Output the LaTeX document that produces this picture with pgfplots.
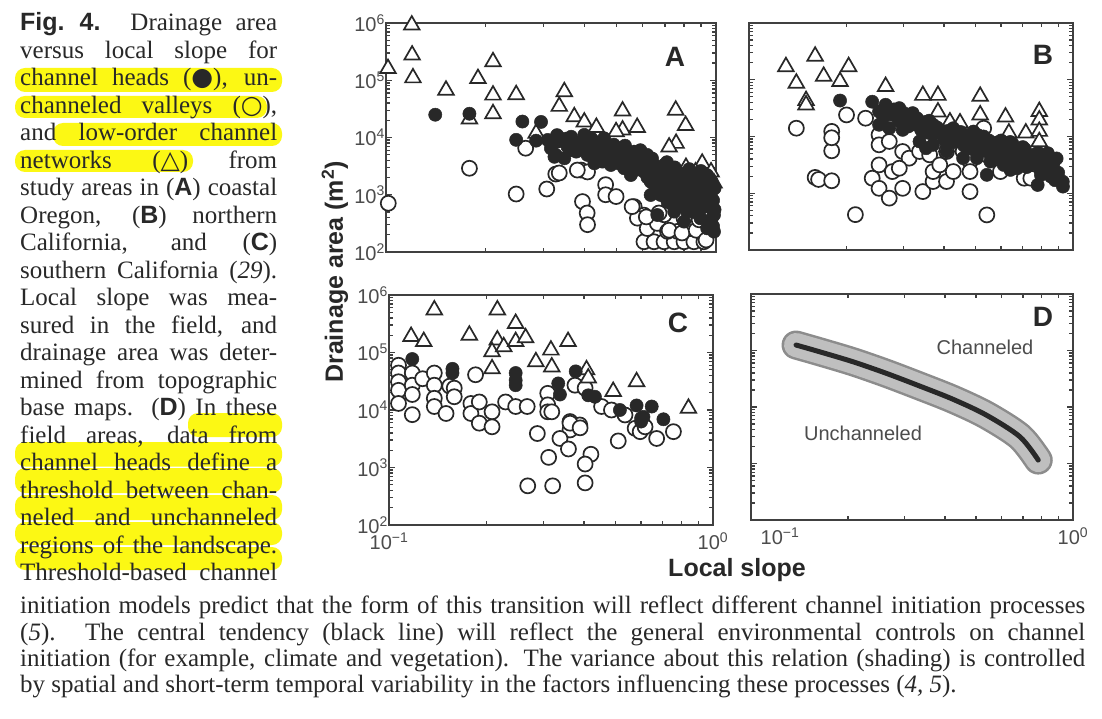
\documentclass[border=0pt]{standalone}
\usepackage{pgfplots}
\pgfplotsset{compat=1.18}
\usepackage{fontspec}
\setmainfont{Liberation Serif}
\setsansfont{Liberation Sans}
\newfontfamily\symf{DejaVu Sans}
\definecolor{hl}{RGB}{252,248,20}
\definecolor{ink}{RGB}{40,40,40}

\pgfplotsset{
  /pgfplots/dpanel/.style={
    scale only axis,
    xmin=0.1, xmax=1, ymin=100, ymax=1e6,
    clip=false,
    axis line style={line width=1.8pt, draw=black!75},
    every tick/.style={line width=1.3pt, draw=black!75},
    major tick length=6pt, minor tick length=4pt,
    tick align=inside,
    xtick={0.1,1}, ytick={100,1000,10000,100000,1000000},
    xticklabels={}, yticklabels={},
    tick label style={font=\fontsize{20}{20}\selectfont\sffamily, text=black!70},
    yticklabel style={inner sep=1pt},
    xticklabel style={yshift=-4pt},
  },
  /pgfplots/dylab/.style={yticklabels={10\textsuperscript{2},10\textsuperscript{3},10\textsuperscript{4},10\textsuperscript{5},10\textsuperscript{6}}},
  /pgfplots/mopen/.style={only marks, mark=*, mark size=7.5pt, mark options={line width=1.7pt, draw=ink, fill=white}},
  /pgfplots/mfill/.style={only marks, mark=*, mark size=6.6pt, mark options={line width=0.5pt, draw=ink, fill=ink}},
  /pgfplots/mtri/.style={only marks, mark=triangle*, mark size=9pt, mark options={line width=1.7pt, draw=ink, fill=white}},
}
\newcommand\capf{\fontsize{25}{27}\selectfont}
\newcommand\cl[2]{\node[anchor=base west,inner sep=0pt,text=ink,font=\capf] at (20,#1) {\makebox[257pt][s]{#2}};}
\newcommand\bl[2]{\node[anchor=base west,inner sep=0pt,text=ink,font=\capf] at (20,#1) {\makebox[1065pt][s]{#2}};}
\newcommand\sfb[1]{{\sffamily\bfseries #1}}

\begin{document}
\begin{tikzpicture}
\begin{scope}[x=1pt,y=-1pt]
  \fill[white] (0,0) rectangle (1102,719);
  \path[use as bounding box] (0,0) rectangle (1102,719);
  % highlights
  \fill[hl, rounded corners=10pt] (15,68) rectangle (282,92);
  \fill[hl, rounded corners=10pt] (15,96) rectangle (267,118);
  \fill[hl, rounded corners=10pt] (53,123) rectangle (282,146);
  \fill[hl, rounded corners=10pt] (15,150) rectangle (193,172);
  \fill[hl, rounded corners=10pt] (188,413) rectangle (282,437);
  \fill[hl, rounded corners=10pt] (15,442) rectangle (282,466.5);
  \fill[hl, rounded corners=10pt] (15,468) rectangle (282,493);
  \fill[hl, rounded corners=10pt] (15,495) rectangle (282,520);
  \fill[hl, rounded corners=10pt] (15,522) rectangle (282,545);
  \fill[hl, rounded corners=10pt] (15,547) rectangle (282,570);
  % caption, left column
  \cl{30.6}{\sfb{Fig.\ 4.} Drainage area}
  \cl{58.1}{versus local slope for}
  \cl{85.6}{channel heads ({\symf ●}), un-}
  \cl{113.1}{channeled valleys ({\symf ○}),}
  \cl{140.6}{and low-order channel}
  \cl{168.1}{networks ({\symf △}) from}
  \cl{195.6}{study areas in (\sfb{A}) coastal}
  \cl{223.1}{Oregon, (\sfb{B}) northern}
  \cl{250.6}{California, and (\sfb{C})}
  \cl{278.1}{southern California (\textit{29}).}
  \cl{305.6}{Local slope was mea-}
  \cl{333.1}{sured in the field, and}
  \cl{360.6}{drainage area was deter-}
  \cl{388.1}{mined from topographic}
  \cl{415.6}{base maps. (\sfb{D}) In these}
  \cl{443.1}{field areas, data from}
  \cl{470.6}{channel heads define a}
  \cl{498.1}{threshold between chan-}
  \cl{525.6}{neled and unchanneled}
  \cl{553.1}{regions of the landscape.}
  \cl{580.6}{Threshold-based channel}
  % caption, bottom
  \bl{613.5}{initiation models predict that the form of this transition will reflect different channel initiation processes}
  \bl{640.5}{(\textit{5}). The central tendency (black line) will reflect the general environmental controls on channel}
  \bl{666.5}{initiation (for example, climate and vegetation). The variance about this relation (shading) is controlled}
  \node[anchor=base west,inner sep=0pt,text=ink,font=\capf] at (20,692.5) {by spatial and short-term temporal variability in the factors influencing these processes (\textit{4, 5}).};
  % axis titles
  \node[rotate=90, text=ink, font=\fontsize{25}{25}\selectfont\sffamily\bfseries] at (335,272) {Drainage area (m\textsuperscript{2})};
  \node[text=ink, font=\fontsize{25}{25}\selectfont\sffamily\bfseries] at (737,570) {Local slope};
  % panel letters and region names
  \node[text=ink, font=\fontsize{28}{28}\selectfont\sffamily\bfseries] at (675,57) {A};
  \node[text=ink, font=\fontsize{28}{28}\selectfont\sffamily\bfseries] at (1043,55) {B};
  \node[text=ink, font=\fontsize{28}{28}\selectfont\sffamily\bfseries] at (678,323) {C};
  \node[text=ink, font=\fontsize{28}{28}\selectfont\sffamily\bfseries] at (1043,317) {D};
  \node[text=black!70, font=\fontsize{20}{20}\selectfont\sffamily] at (985,347) {Channeled};
  \node[text=black!70, font=\fontsize{20}{20}\selectfont\sffamily] at (863,433) {Unchanneled};
\end{scope}

% ---- A: coastal Oregon
\begin{loglogaxis}[dpanel, dylab, at={(386pt,-23pt)}, anchor=north west, width=330pt, height=229pt]
\addplot[mopen] coordinates {(0.265,6500)(0.179,2900)(0.248,1030)(0.307,1260)(0.1016,710)(0.327,2300)(0.335,2400)(0.390,2700)(0.408,2500)(0.463,1500)(0.463,1000)(0.498,930)(0.394,760)(0.407,480)(0.408,300)(0.565,620)(0.605,440)(0.578,390)(0.605,151)(0.649,151)(0.696,151)(0.747,151)(0.800,151)(0.857,151)(0.919,151)(0.619,257)(0.664,316)(0.713,229)(0.764,229)(0.837,257)(0.897,229)(0.964,447)(0.800,390)(0.696,447)(0.615,410)(0.672,480)(0.721,240)(0.789,215)(0.871,240)(0.933,162)(0.889,365)(0.557,620)(0.380,2700)};
\addplot[mtri] coordinates {(0.1197,920000)(0.120,275000)(0.1207,110000)(0.1014,160000)(0.152,67000)(0.211,210000)(0.190,107000)(0.211,55000)(0.211,26000)(0.248,56000)(0.179,21000)(0.285,11800)(0.347,63000)(0.335,35000)(0.372,23000)(0.399,18600)(0.434,15000)(0.521,29000)(0.521,13500)(0.577,15000)(0.498,12600)(0.755,30000)(0.809,16200)(0.757,7900)(0.721,6800)(0.908,3550)(0.966,2500)(0.867,2500)(0.811,3000)(0.986,1600)};
\addplot[mfill] coordinates {(0.141,25000)(0.179,26000)(0.259,19000)(0.295,18700)(0.248,9100)(0.285,8800)(0.316,8800)(0.324,4600)
(0.309,9060)(0.331,8460)(0.327,4960)(0.355,6900)(0.364,10300)(0.377,5660)(0.390,8460)(0.347,4330)(0.316,6470)
(0.399,11100)(0.418,8460)(0.408,4960)(0.438,6470)(0.453,3790)(0.469,7400)(0.486,4960)(0.428,3540)(0.458,9700)(0.480,3310)
(0.515,6470)(0.540,4330)(0.527,2900)(0.565,5660)(0.592,3790)(0.619,4960)(0.605,2530)(0.649,3310)(0.552,2210)(0.634,1690)
(0.664,2210)(0.696,3310)(0.679,1290)(0.729,1690)(0.764,2530)(0.634,990)(0.713,757)(0.782,1130)(0.747,507)(0.664,443)
(0.800,1690)(0.837,990)(0.877,1290)(0.919,757)(0.964,990)(0.986,443)(0.818,507)(0.897,388)(0.940,259)(0.857,662)(0.986,227)(0.800,339)
(0.370,7400)(0.430,5660)(0.500,4330)(0.580,3310)(0.650,2530)(0.700,1690)(0.760,1130)(0.840,757)(0.900,570)(0.950,640)(0.620,2900)(0.550,3800)(0.720,2900)(0.680,990)(0.790,850)(0.880,1000)(0.930,1400)(0.980,280)
(0.33,11000)(0.35,9500)(0.36,6000)(0.40,7000)(0.42,9500)(0.44,8000)(0.46,5500)(0.47,4200)(0.49,7500)(0.50,5800)(0.51,3500)
(0.53,7200)(0.54,5000)(0.56,4600)(0.57,2700)(0.59,6000)(0.60,4200)(0.61,3200)(0.62,2000)
(0.64,4300)(0.65,1500)(0.66,2900)(0.67,1800)(0.69,2400)(0.70,1200)(0.71,3700)(0.72,2100)(0.73,1400)(0.74,900)(0.75,3000)(0.76,1900)(0.77,650)(0.78,1500)
(0.80,2300)(0.81,1300)(0.82,800)(0.83,2800)(0.84,1800)(0.85,1100)(0.86,500)(0.87,2000)(0.88,1500)(0.89,700)(0.90,2600)(0.91,1100)(0.92,1800)(0.93,900)(0.94,2200)(0.95,1200)(0.96,600)(0.97,1700)(0.98,800)(0.99,1300)(0.97,380)(0.99,550)};
\end{loglogaxis}

% ---- B: northern California
\begin{loglogaxis}[dpanel, at={(749pt,-23pt)}, anchor=north west, width=324pt, height=227pt]
\addplot[mopen] coordinates {(0.140,14000)(0.180,12300)(0.180,5600)(0.180,9500)(0.200,24000)(0.160,1900)(0.164,1750)(0.180,1660)(0.213,420)(0.229,21000)
(0.252,10700)(0.252,7130)(0.271,8170)(0.298,5440)(0.312,4150)(0.252,3160)(0.240,1840)(0.252,1220)(0.271,820)(0.277,2410)(0.291,2760)(0.298,1220)(0.336,5440)(0.361,4750)(0.344,1070)(0.370,1610)(0.370,2410)(0.388,3160)(0.407,1610)(0.427,2410)(0.407,5440)(0.458,5440)(0.481,3620)(0.481,2410)(0.481,1070)(0.530,14000)(0.542,4750)(0.597,2410)(0.707,1840)(0.741,1840)(0.542,415)(0.352,16100)(0.361,12200)};
\addplot[mtri] coordinates {(0.130,170000)(0.140,87000)(0.160,260000)(0.170,115000)(0.191,93000)(0.203,170000)(0.150,43000)(0.150,36000)(0.264,76000)(0.344,53000)(0.383,53000)(0.383,27000)(0.417,18000)(0.448,17300)(0.517,51000)(0.517,24000)(0.619,22000)(0.634,11500)(0.715,11500)(0.787,27500)(0.787,19500)(0.787,12300)(0.787,8100)};
\addplot[mfill] coordinates {(0.191,43000)(0.240,41000)
(0.252,27600)(0.264,36200)(0.277,24100)(0.291,31600)(0.305,21100)(0.320,25800)(0.252,16100)(0.271,14000)(0.298,13100)(0.328,16100)(0.352,12200)(0.370,16100)(0.397,10700)(0.427,14000)(0.336,8170)(0.370,7130)(0.407,7630)(0.448,9350)(0.470,6220)(0.493,12200)(0.517,8170)(0.542,5440)(0.569,7130)(0.597,4750)(0.627,6220)(0.658,4150)(0.690,5440)(0.723,3620)(0.458,4150)(0.505,4150)(0.556,3620)(0.611,3160)(0.673,2760)(0.759,4750)(0.796,3620)(0.836,5080)(0.796,2110)(0.855,1970)(0.778,1400)(0.931,1310)(0.542,2110)(0.641,2580)(0.407,5440)(0.352,6220)
(0.440,11000)(0.480,9000)(0.530,10000)(0.600,8500)(0.650,7500)(0.580,5500)(0.700,6500)(0.750,3900)(0.620,3900)(0.860,3000)(0.360,19000)(0.310,15000)(0.290,19000)(0.390,13000)
(0.26,22000)(0.28,30000)(0.30,26000)(0.31,19000)(0.33,21000)(0.34,13000)(0.35,18000)(0.37,11000)(0.38,14500)(0.40,9000)(0.41,12500)(0.43,8000)(0.45,12000)(0.46,7000)(0.47,10500)(0.49,7500)(0.50,5600)(0.51,10500)(0.53,6500)(0.55,8500)(0.56,5000)(0.58,7800)(0.59,4200)(0.61,6800)(0.63,4700)(0.64,8000)(0.66,5600)(0.67,3700)(0.69,4600)(0.71,6000)(0.72,2900)(0.74,4400)(0.76,3300)(0.78,5200)(0.79,2800)(0.81,4200)(0.82,3000)(0.84,3900)(0.85,2600)(0.87,3300)(0.89,4100)(0.90,2300)(0.88,1700)(0.93,1600)};
\end{loglogaxis}

% ---- C: southern California
\begin{loglogaxis}[dpanel, dylab, at={(389pt,-295pt)}, anchor=north west, width=324pt, height=230pt,
  xticklabels={10\textsuperscript{−1},10\textsuperscript{0}}]
\addplot[mopen] coordinates {(0.107,60000)(0.107,44000)(0.107,31000)(0.107,22000)(0.107,13000)(0.118,44000)(0.118,27000)(0.118,18600)(0.118,8300)(0.127,35000)(0.138,44000)(0.138,27000)(0.138,16000)(0.138,11500)(0.150,8700)(0.154,26000)(0.159,24000)(0.159,17000)(0.185,41000)(0.179,13000)(0.179,8700)(0.190,13800)(0.190,5900)(0.208,9300)(0.208,5100)(0.229,13800)(0.246,11500)(0.267,11500)(0.287,3900)(0.309,19500)(0.309,12300)(0.309,9300)(0.311,1500)(0.268,480)(0.320,480)(0.318,9300)(0.362,6300)(0.362,4500)(0.388,5500)(0.337,3200)(0.358,2100)(0.420,1700)(0.403,1150)(0.403,540)(0.375,27000)(0.403,24000)(0.453,11500)(0.486,10000)(0.535,8200)(0.510,2900)(0.575,4800)(0.596,4200)(0.617,5100)(0.670,3200)(0.755,4200)(0.362,5900)(0.389,4900)};
\addplot[mtri] coordinates {(0.138,550000)(0.216,550000)(0.117,190000)(0.128,155000)(0.177,200000)(0.246,320000)(0.216,165000)(0.208,103000)(0.226,126000)(0.246,155000)(0.264,180000)(0.208,52000)(0.284,69000)(0.316,110000)(0.357,155000)(0.318,56000)(0.407,50000)(0.412,36000)(0.492,21000)(0.581,31000)(0.840,10700)};
\addplot[mfill] coordinates {(0.118,77000)(0.157,52000)(0.157,44000)(0.246,44000)(0.246,33000)(0.246,27000)(0.333,29000)(0.337,18600)(0.377,47000)(0.412,18000)(0.432,17000)(0.516,10000)(0.581,12000)(0.647,11500)(0.600,7200)(0.610,7600)(0.600,6300)(0.703,6900)};
\end{loglogaxis}

% ---- D: schematic threshold
\begin{loglogaxis}[dpanel, at={(751pt,-294pt)}, anchor=north west, width=322pt, height=226pt,
  xticklabels={\hspace*{58pt}10\textsuperscript{−1},10\textsuperscript{0}}]
\addplot[smooth, mark=none, line width=29pt, draw=black!45, line cap=round] coordinates {(0.138,125000)(0.163,95300)(0.207,63400)(0.263,39500)(0.334,23500)(0.424,13700)(0.538,7200)(0.684,2980)(0.780,1150)};
\addplot[smooth, mark=none, line width=24pt, draw=black!25, line cap=round] coordinates {(0.138,125000)(0.163,95300)(0.207,63400)(0.263,39500)(0.334,23500)(0.424,13700)(0.538,7200)(0.684,2980)(0.780,1150)};
\addplot[smooth, mark=none, line width=5pt, draw=ink, line cap=round] coordinates {(0.138,125000)(0.163,95300)(0.207,63400)(0.263,39500)(0.334,23500)(0.424,13700)(0.538,7200)(0.684,2980)(0.780,1150)};
\end{loglogaxis}
\end{tikzpicture}
\end{document}
